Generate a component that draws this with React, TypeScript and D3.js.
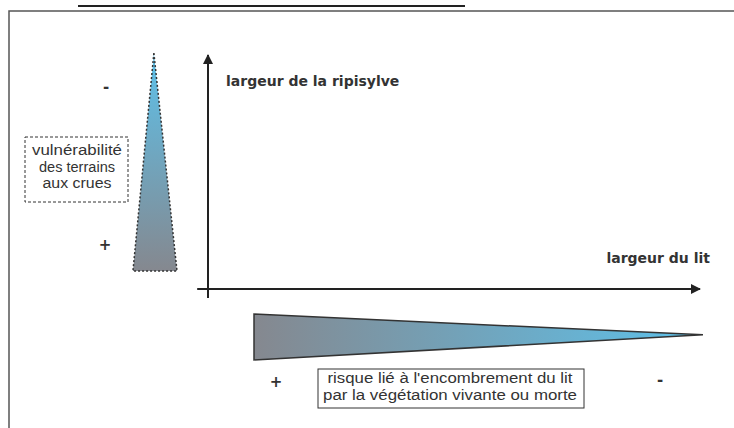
import React from 'react';
import * as d3 from 'd3';

// Axis titles and annotation texts
const yAxisTitle = 'largeur de la ripisylve';
const xAxisTitle = 'largeur du lit';
const leftBoxLines = ['vulnérabilité', 'des terrains', 'aux crues'];
const bottomBoxLines = ["risque lié à l'encombrement du lit", 'par la végétation vivante ou morte'];
// signs at both ends of each gradient wedge [start, end]
const leftSigns = ['-', '+'];
const bottomSigns = ['+', '-'];

// gradient stops for the wedges
const wedgeColors = ['#85888f', '#5dc1ea'];

const W = 734;
const H = 428;

// schematic units: axis runs 0 -> 100 on both directions
const x = d3.scaleLinear().domain([0, 100]).range([208, 700]);
const y = d3.scaleLinear().domain([0, 100]).range([289, 55]);

const line = d3.line<[number, number]>()
  .x(d => x(d[0]))
  .y(d => y(d[1]));

// wedge shapes in schematic units
const leftWedge: [number, number][] = [[-11, 100.8], [-6.3, 7.7], [-15.25, 7.7]];
const bottomWedge: [number, number][] = [[9.35, -10.7], [100.6, -19.6], [9.35, -30.3]];

const sans = "'Liberation Sans', Arial, sans-serif";
const bold = "'DejaVu Sans', Verdana, sans-serif";

// measured widths of the box lines in the reference (px)
const leftWidths = [90, 76, 69];
const bottomWidths = [245, 254];

const App = () => {
  return (
    <svg width={W} height={H} style={{ position: 'absolute', left: 0, top: 0, background: '#fff' }}>
      <defs>
        <linearGradient id="gLeft" x1="0" y1="1" x2="0" y2="0">
          <stop offset="0%" stopColor={wedgeColors[0]} />
          <stop offset="100%" stopColor={wedgeColors[1]} />
        </linearGradient>
        <linearGradient id="gBottom" x1="0" y1="0" x2="1" y2="0">
          <stop offset="0%" stopColor={wedgeColors[0]} />
          <stop offset="100%" stopColor={wedgeColors[1]} />
        </linearGradient>
        <marker id="arrow" viewBox="0 0 10 10" refX="9" refY="5" markerWidth="6" markerHeight="5" orient="auto">
          <path d="M0,0 L10,5 L0,10 z" fill="#222" />
        </marker>
      </defs>

      {/* page decoration */}
      <line x1={78} x2={465} y1={6} y2={6} stroke="#222" strokeWidth={2} />
      <path d={`M${W},11 H9 V${H}`} fill="none" stroke="#555" strokeWidth={1.5} />

      {/* axes */}
      <line x1={x(0)} x2={x(0)} y1={y(-3.8)} y2={y(100)} stroke="#222" strokeWidth={2} markerEnd="url(#arrow)" />
      <line x1={x(-2.2)} x2={x(0)} y1={y(0)} y2={y(0)} stroke="#222" strokeWidth={2} />
      <line x1={x(0)} x2={x(100)} y1={y(0)} y2={y(0)} stroke="#222" strokeWidth={2} markerEnd="url(#arrow)" />

      <text x={226} y={86} fontFamily={bold} fontWeight="bold" fontSize={14} fill="#333">{yAxisTitle}</text>
      <text x={710} y={263} textAnchor="end" fontFamily={bold} fontWeight="bold" fontSize={14} fill="#333">{xAxisTitle}</text>

      {/* left wedge */}
      <path d={line(leftWedge) + 'Z'} fill="url(#gLeft)" stroke="#333" strokeWidth={1.5} strokeDasharray="2,2" />
      <text x={106} y={92} textAnchor="middle" fontFamily={bold} fontWeight="bold" fontSize={15} fill="#333">{leftSigns[0]}</text>
      <text x={105} y={250} textAnchor="middle" fontFamily={bold} fontWeight="bold" fontSize={15} fill="#333">{leftSigns[1]}</text>

      <rect x={25} y={137} width={103} height={65} fill="#fff" stroke="#333" strokeWidth={1} strokeDasharray="3,2" />
      {leftBoxLines.map((t, i) => (
        <text key={t} x={77} y={155 + i * 16.5} textAnchor="middle" fontFamily={sans} fontSize={14}
          textLength={leftWidths[i]} lengthAdjust="spacingAndGlyphs" fill="#333">{t}</text>
      ))}

      {/* bottom wedge */}
      <path d={line(bottomWedge) + 'Z'} fill="url(#gBottom)" stroke="#333" strokeWidth={1.5} />
      <text x={276} y={387} textAnchor="middle" fontFamily={bold} fontWeight="bold" fontSize={15} fill="#333">{bottomSigns[0]}</text>
      <text x={660} y={385} textAnchor="middle" fontFamily={bold} fontWeight="bold" fontSize={15} fill="#333">{bottomSigns[1]}</text>

      <rect x={318} y={369} width={266} height={39} fill="#fff" stroke="#333" strokeWidth={1} />
      {bottomBoxLines.map((t, i) => (
        <text key={t} x={450} y={383 + i * 16.5} textAnchor="middle" fontFamily={sans} fontSize={14}
          textLength={bottomWidths[i]} lengthAdjust="spacingAndGlyphs" fill="#333">{t}</text>
      ))}
    </svg>
  );
};

export default App;
